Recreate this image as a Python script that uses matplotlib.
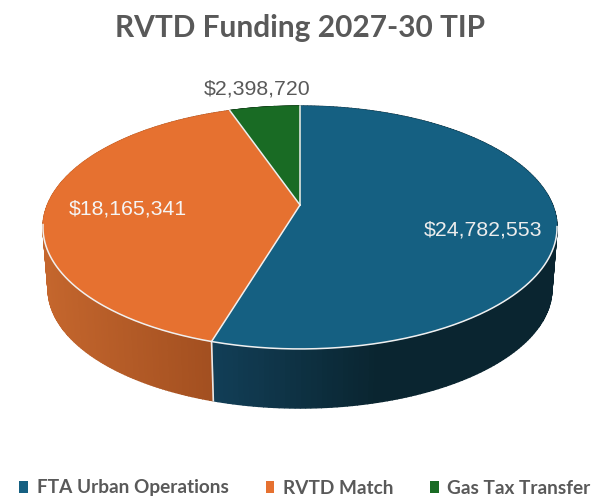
import matplotlib
matplotlib.use("Agg")
import matplotlib.pyplot as plt
from matplotlib.patches import Patch
import numpy as np

title = "RVTD Funding 2027-30 TIP"
categories = ["FTA Urban Operations", "RVTD Match", "Gas Tax Transfer"]
values = [24782553, 18165341, 2398720]
value_labels = ["$24,782,553", "$18,165,341", "$2,398,720"]

top_colors = ["#156082", "#E67130", "#196B24"]
# side shading, lighter end and darker end
side_light = ["#123F58", "#C4662D", "#114A19"]
side_dark = ["#0A2530", "#A24F20", "#0C3512"]

# pie geometry, in pixels of the 597x500 picture
cx, cy = 300, 205
a, b, k = 252.6, 117.3, 0.185
shrink, depth = 0.98, 62
rim_start = 1.75  # radians, front rim is only white from about here round to the left


def project(theta, scale=1.0, dy=0.0):
    # theta is clockwise from 12 o'clock
    u, v = np.sin(theta), np.cos(theta)
    w = 1 + k * v
    return cx + scale * a * u / w, cy + dy - scale * b * v / w


def mix(c1, c2, t):
    c1 = np.array(matplotlib.colors.to_rgb(c1))
    c2 = np.array(matplotlib.colors.to_rgb(c2))
    return tuple(c1 + (c2 - c1) * t)


fig = plt.figure(figsize=(5.97, 5.0), dpi=100)
ax = fig.add_axes([0, 0, 1, 1])
ax.set_xlim(0, 597)
ax.set_ylim(500, 0)
ax.axis("off")

edges = np.concatenate([[0], np.cumsum(values)]) / np.sum(values) * 2 * np.pi

# sides first, the top faces paint over whatever is hidden
for i in range(len(values)):
    th = np.linspace(edges[i], edges[i + 1], 200)
    for t0, t1 in zip(th[:-1], th[1:]):
        x0, y0 = project(t0)
        x1, y1 = project(t1)
        x2, y2 = project(t1, shrink, depth)
        x3, y3 = project(t0, shrink, depth)
        if i == 0:
            t = np.clip((380 - x0) / 170, 0, 1)
            col = mix(side_dark[i], side_light[i], t)
        else:
            t = np.clip((x0 - 45) / 170, 0, 1)
            col = mix(side_light[i], side_dark[i], t)
        ax.fill([x0, x1, x2, x3], [y0, y1, y2, y3], facecolor=col, edgecolor=col,
                lw=1.0, zorder=1)

# white seam between the two visible side segments
sx0, sy0 = project(edges[1])
sx1, sy1 = project(edges[1], shrink, depth)
ax.plot([sx0, sx1], [sy0, sy1], color="#E8E8E8", lw=1.2, zorder=2)

for i in range(len(values)):
    th = np.linspace(edges[i], edges[i + 1], 200)
    x, y = project(th)
    ax.fill(np.r_[cx, x], np.r_[cy, y], facecolor=top_colors[i],
            edgecolor=top_colors[i], lw=0.5, zorder=3)

# radii and the front rim in white, the back edge stays plain
for e in edges[:-1]:
    x, y = project(e)
    ax.plot([cx, x], [cy, y], color="#F0F0F0", lw=1.1, zorder=4)
rim = np.linspace(rim_start, 4.55, 300)
ax.plot(*project(rim), color="#F0F0F0", lw=1.1, zorder=4)

ax.text(300, 28, title, ha="center", va="center", fontsize=21.5,
        fontweight="bold", color="#595959", family="Lato")

label_pos = [(483, 230), (128, 209), (257, 89)]
label_col = ["#EDEDED", "#F5F5F5", "#595959"]
for s, p, c in zip(value_labels, label_pos, label_col):
    ax.text(p[0], p[1], s, ha="center", va="center", fontsize=15.3, color=c,
            family="Liberation Sans", zorder=5)

handles = [Patch(facecolor=c, edgecolor="none") for c in top_colors]
ax.legend(handles, categories, loc="center", bbox_to_anchor=(305 / 597, 1 - 488 / 500),
          ncol=3, frameon=False, handlelength=0.45, handleheight=0.55, handletextpad=0.45,
          columnspacing=1.95, labelcolor="#595959", borderpad=0, borderaxespad=0,
          prop={"family": "Lato", "weight": "bold", "size": 13.7})

fig.savefig("out.png", dpi=100)
